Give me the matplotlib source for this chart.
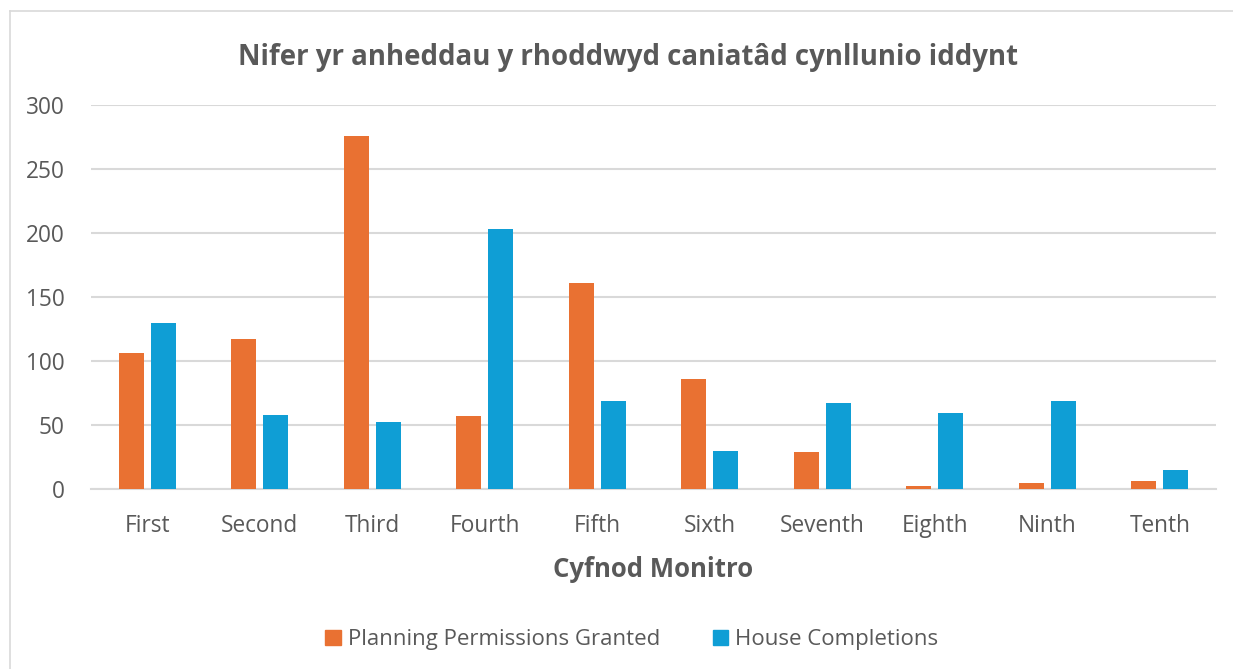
import matplotlib
matplotlib.use('Agg')
import matplotlib.pyplot as plt
from matplotlib.patches import Patch
from matplotlib.lines import Line2D
import numpy as np

plt.rcParams['font.family'] = ['Open Sans', 'DejaVu Sans']

# DATA ######
periods = ['First', 'Second', 'Third', 'Fourth', 'Fifth',
           'Sixth', 'Seventh', 'Eighth', 'Ninth', 'Tenth']
permissions = [106, 117, 276, 57, 161, 86, 29, 2, 5, 6]
completions = [130, 58, 52, 203, 69, 30, 67, 59, 69, 15]
y_ticks = [0, 50, 100, 150, 200, 250, 300]

series_names = ['Planning Permissions Granted', 'House Completions']
c_orange = '#E97132'
c_blue = '#0F9ED5'
c_text = '#595959'
c_grid = '#D9D9D9'

W, H = 1233, 669
fig = plt.figure(figsize=(W / 100, H / 100), dpi=100)
ax = fig.add_axes([91 / W, 180 / H, (1216 - 91) / W, (489 - 105) / H])

x = np.arange(len(periods))
bw = 0.222
off = 0.142
ax.bar(x - off, permissions, bw, color=c_orange, zorder=3)
ax.bar(x + off, completions, bw, color=c_blue, zorder=3)

ax.set_xlim(-0.5, len(periods) - 0.5)
ax.set_ylim(0, 300)
ax.set_yticks(y_ticks)
ax.set_xticks(x)
ax.set_xticklabels(periods)
ax.tick_params(axis='both', length=0, labelsize=16.3, colors=c_text)
ax.tick_params(axis='x', pad=18)
ax.tick_params(axis='y', pad=19)
ax.grid(axis='y', color=c_grid, linewidth=1.5, zorder=0)
for s in ['top', 'right', 'left']:
    ax.spines[s].set_visible(False)
ax.spines['bottom'].set_color(c_grid)
ax.spines['bottom'].set_linewidth(1.5)

ax.set_xlabel('Cyfnod Monitro', fontsize=18.5, fontweight='bold', color=c_text, labelpad=13)
fig.text(628 / W, 1 - 57 / H, 'Nifer yr anheddau y rhoddwyd caniatâd cynllunio iddynt',
         ha='center', va='center', fontsize=19.9, fontweight='bold', color=c_text)

handles = [Patch(color=c_orange), Patch(color=c_blue)]
leg = fig.legend(handles, series_names, loc='center', bbox_to_anchor=(632 / W, 1 - 640 / H),
                 ncol=2, frameon=False, fontsize=16, handlelength=0.68, handleheight=0.68,
                 handletextpad=0.32, columnspacing=2.4)
for t in leg.get_texts():
    t.set_color(c_text)

# chart border
fig.add_artist(Line2D([10 / W, 10 / W], [0, 1 - 11 / H], color='#D9D9D9', linewidth=1.2))
fig.add_artist(Line2D([10 / W, 1], [1 - 11 / H, 1 - 11 / H], color='#D9D9D9', linewidth=1.2))

fig.savefig('out.png', dpi=100)
